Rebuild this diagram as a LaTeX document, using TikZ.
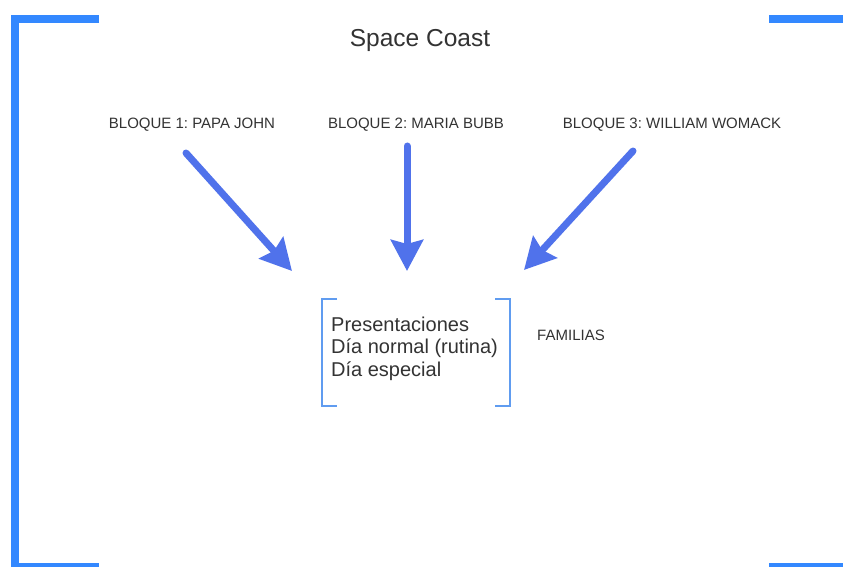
\documentclass[tikz,border=0pt]{standalone}
\usepackage{fontspec}
\setmainfont{Liberation Sans}
\usetikzlibrary{arrows.meta}
\frenchspacing
\definecolor{framecol}{RGB}{51,136,255}
\definecolor{arrowcol}{RGB}{80,114,235}
\definecolor{bracketcol}{RGB}{96,156,240}
\definecolor{txt}{RGB}{51,51,51}
\begin{document}
\begin{tikzpicture}[x=1pt,y=-1pt,
  frameline/.style={draw=framecol,line width=7.5pt},
  bigarrow/.style={draw=arrowcol,line width=7pt,line cap=round,
    -{Stealth[length=31pt,width=32pt,inset=4pt]}},
  bracketline/.style={draw=bracketcol,line width=2pt},
  label/.style={text=txt,font=\fontsize{15}{17}\selectfont,inner sep=0pt,anchor=base},
  body/.style={text=txt,font=\fontsize{20}{22.6}\selectfont,inner sep=0pt,align=left}]
  \useasboundingbox[fill=white] (0,0) rectangle (843,567);
  % outer frame corners
  \draw[frameline] (99,19) -- (15,19) -- (15,580);
  \draw[frameline] (15,566.5) -- (99,566.5);
  \draw[frameline] (769,19) -- (850,19);
  \draw[frameline] (769,566.5) -- (850,566.5);
  % title
  \node[text=txt,font=\fontsize{24.5}{27}\selectfont,inner sep=0pt,anchor=base] (title) at (420,46.5) {Space Coast};
  % block labels
  \node[label] (b1) at (192,128.5) {BLOQUE 1: PAPA JOHN};
  \node[label] (b2) at (416,128.5) {BLOQUE 2: MARIA BUBB};
  \node[label] (b3) at (672,128.5) {BLOQUE 3: WILLIAM WOMACK};
  % central list with brackets
  \node[body,anchor=north west] (list) at (331,316.5) {Presentaciones\\Día normal (rutina)\\Día especial};
  \draw[bracketline] (337,299) -- (322,299) -- (322,406) -- (337,406);
  \draw[bracketline] (495,299) -- (510,299) -- (510,406) -- (495,406);
  \node[label] (fam) at (571,340.5) {FAMILIAS};
  % arrow ends
  \coordinate (s1) at (186,153);
  \coordinate (t1) at (292,271);
  \coordinate (s2) at (407,146);
  \coordinate (t2) at (407,271);
  \coordinate (s3) at (633,151);
  \coordinate (t3) at (524,270);
  \draw[bigarrow] (s1) -- (t1);
  \draw[bigarrow] (s2) -- (t2);
  \draw[bigarrow] (s3) -- (t3);
\end{tikzpicture}
\end{document}
